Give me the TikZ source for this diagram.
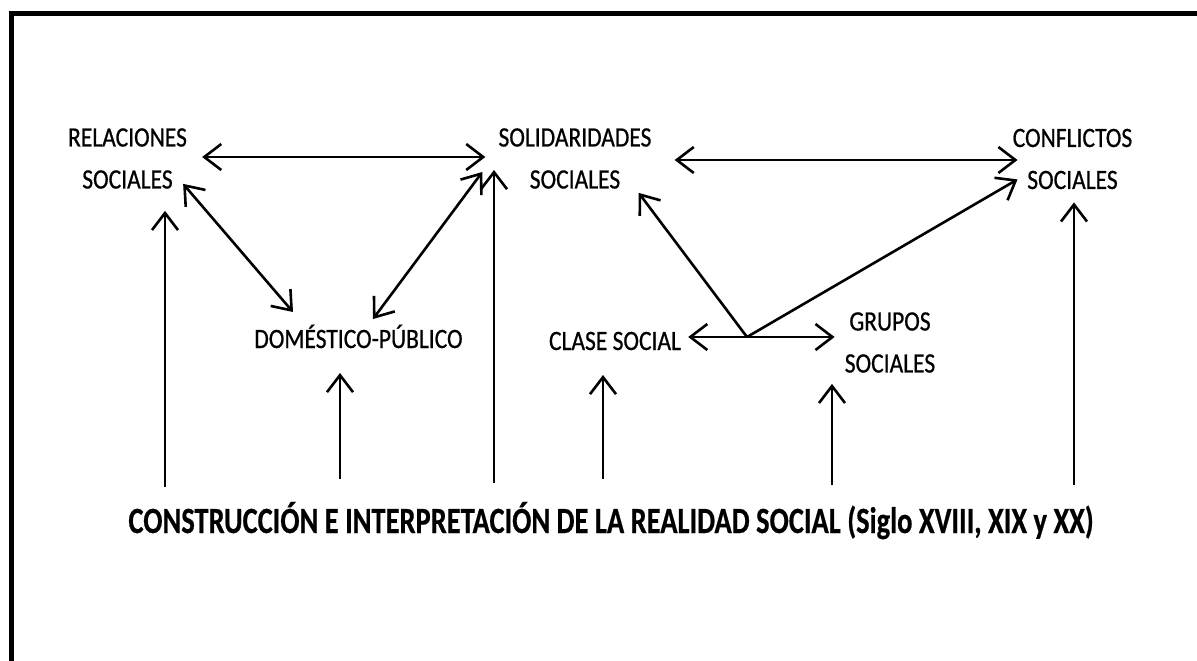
\documentclass[tikz,border=0pt]{standalone}
\usepackage{fontspec}
\setmainfont{Carlito}
\newfontfamily\lblfont[FakeStretch=0.84, FakeBold=0.7]{Carlito}
\newfontfamily\basefont[FakeStretch=0.77, FakeBold=0.5]{Carlito}
\usetikzlibrary{arrows.meta, calc}
\tikzset{
  concept/.style={inner sep=0pt, align=center, font=\lblfont\fontsize{28}{42}\selectfont},
  link/.style={line width=2.6pt, {Straight Barb[length=17pt, width=26pt]}-{Straight Barb[length=17pt, width=26pt]}},
  up/.style={line width=2.6pt, -{Straight Barb[length=17pt, width=26pt]}}
}

\begin{document}
\begin{tikzpicture}[x=1pt, y=-1pt]
  \useasboundingbox (0,0) rectangle (1197,661);
  \clip (0,0) rectangle (1197,661);
  \draw[line width=4.5pt] (11.5,13.5) rectangle (1230,700);

  \node[concept] (rel) at (127.5,158.5) {RELACIONES\\SOCIALES};
  \node[concept] (sol) at (575,158.5) {SOLIDARIDADES\\SOCIALES};
  \node[concept] (conf) at (1072.5,159) {CONFLICTOS\\SOCIALES};
  \node[concept, anchor=base] (dom) at (358.5,348) {DOMÉSTICO-PÚBLICO};
  \node[concept, anchor=base] (clase) at (615,350) {CLASE SOCIAL};
  \node[concept] (grupos) at (890,342.5) {GRUPOS\\SOCIALES};
  \node[inner sep=0pt, anchor=base, font=\basefont\bfseries\fontsize{37}{40}\selectfont] (base) at (611,533)
    {CONSTRUCCIÓN E INTERPRETACIÓN DE LA REALIDAD SOCIAL (Siglo XVIII, XIX y XX)};

  \draw[link] ($(rel.east)+(15,-1.5)$) -- ($(sol.west)+(-13,-1.5)$);
  \draw[link] ($(sol.east)+(23,1.5)$) -- ($(conf.west)+(5,1)$);
  \draw[link] ($(rel.south east)+(-4,-5)$) -- ($(dom.base)+(-65.5,-36)$);
  \draw[link] ($(sol.west)+(-16,13.5)$) -- ($(dom.base)+(14.5,-29)$);

  \coordinate (hub) at ($(clase.base)+(132,-13)$);
  \draw[link] ($(clase.base east)+(7,-13)$) -- ($(grupos.west)+(-10,-5.5)$);
  \draw[up] (hub) -- ($(sol.south east)+(-13,4)$);
  \draw[up] (hub) -- ($(conf.south west)+(5,-10)$);

  \coordinate (f1) at (165,487);
  \coordinate (f2) at (340,479);
  \coordinate (f3) at (494,483);
  \coordinate (f4) at (603,479);
  \coordinate (f5) at (832,485);
  \coordinate (f6) at (1074,485);
  \draw[up] (f1) -- ($(f1 |- rel.south)+(0,22)$);
  \draw[up] (f2) -- ($(f2 |- dom.base)+(0,25)$);
  \draw[up] (f3) -- ($(f3 |- sol.center)+(0,11.5)$);
  \draw[up] (f4) -- ($(f4 |- clase.base)+(0,25)$);
  \draw[up] (f5) -- ($(f5 |- grupos.south)+(0,11)$);
  \draw[up] (f6) -- ($(f6 |- conf.south)+(0,13)$);
\end{tikzpicture}
\end{document}
